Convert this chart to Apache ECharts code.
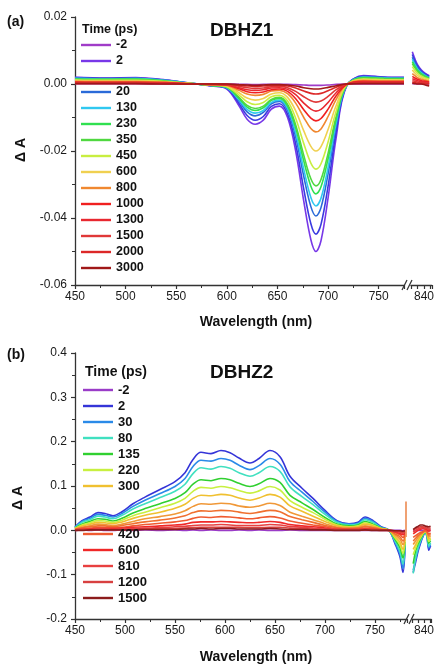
<!DOCTYPE html>
<html><head><meta charset="utf-8">
<script src="https://cdn.jsdelivr.net/npm/echarts@6/dist/echarts.min.js"></script>
<style>html,body{margin:0;padding:0;background:#fff}#c{width:437px;height:665px}</style>
</head><body><div id="c"></div>
<script>
// ---------- Panel (a) DBHZ1 ----------
const wlA = [450, 480, 510, 540, 565, 585, 600, 612, 620, 628, 636, 644, 652, 660, 668, 676, 683, 688, 693, 700, 708, 718, 735, 755, 775];
const wlAR = [831, 833, 835, 838, 841, 844];
const timesA = ['-2', '2', '', '20', '130', '230', '350', '450', '600', '800', '1000', '1300', '1500', '2000', '3000'];
const a_m2 = [0.0001, 0.0001, 0.0001, 0.0000, 0.0000, 0.0000, 0.0000, -0.0001, -0.0001, -0.0002, -0.0001, -0.0001, -0.0001, -0.0001, -0.0002, -0.0003, -0.0004, -0.0004, -0.0004, -0.0003, -0.0001, 0.0000, 0.0000, 0.0000, 0.0000];
const a_2 = [0.0020, 0.0018, 0.0019, 0.0012, 0.0002, -0.0006, -0.0015, -0.0065, -0.0105, -0.0120, -0.0108, -0.0075, -0.0066, -0.0100, -0.0200, -0.0350, -0.0465, -0.0500, -0.0468, -0.0340, -0.0160, -0.0008, 0.0025, 0.0021, 0.0020];
const a_u = [0.0019, 0.0017, 0.0018, 0.0011, 0.0002, -0.0005, -0.0013, -0.0058, -0.0094, -0.0108, -0.0097, -0.0067, -0.0059, -0.0090, -0.0179, -0.0314, -0.0417, -0.0448, -0.0419, -0.0305, -0.0143, -0.0007, 0.0024, 0.0020, 0.0019];
const a_20 = [0.0018, 0.0016, 0.0017, 0.0011, 0.0002, -0.0005, -0.0012, -0.0051, -0.0083, -0.0095, -0.0085, -0.0059, -0.0052, -0.0079, -0.0158, -0.0276, -0.0366, -0.0394, -0.0369, -0.0268, -0.0126, -0.0006, 0.0022, 0.0019, 0.0018];
const a_130 = [0.0017, 0.0015, 0.0016, 0.0010, 0.0002, -0.0004, -0.0011, -0.0047, -0.0076, -0.0087, -0.0079, -0.0055, -0.0048, -0.0073, -0.0146, -0.0255, -0.0339, -0.0364, -0.0341, -0.0248, -0.0116, -0.0006, 0.0021, 0.0018, 0.0017];
const a_230 = [0.0015, 0.0014, 0.0015, 0.0009, 0.0001, -0.0004, -0.0010, -0.0043, -0.0069, -0.0079, -0.0071, -0.0049, -0.0043, -0.0066, -0.0131, -0.0230, -0.0305, -0.0328, -0.0307, -0.0223, -0.0105, -0.0005, 0.0019, 0.0017, 0.0016];
const a_350 = [0.0014, 0.0013, 0.0013, 0.0008, 0.0001, -0.0004, -0.0009, -0.0040, -0.0064, -0.0073, -0.0066, -0.0046, -0.0040, -0.0061, -0.0122, -0.0213, -0.0283, -0.0304, -0.0285, -0.0207, -0.0097, -0.0005, 0.0018, 0.0016, 0.0015];
const a_450 = [0.0012, 0.0011, 0.0011, 0.0007, 0.0001, -0.0003, -0.0008, -0.0033, -0.0053, -0.0061, -0.0055, -0.0038, -0.0034, -0.0051, -0.0102, -0.0178, -0.0236, -0.0254, -0.0238, -0.0173, -0.0081, -0.0004, 0.0015, 0.0013, 0.0012];
const a_600 = [0.0010, 0.0009, 0.0009, 0.0006, 0.0001, -0.0002, -0.0006, -0.0026, -0.0042, -0.0048, -0.0043, -0.0030, -0.0026, -0.0040, -0.0080, -0.0140, -0.0186, -0.0200, -0.0187, -0.0136, -0.0064, -0.0003, 0.0013, 0.0011, 0.0011];
const a_800 = [0.0008, 0.0007, 0.0007, 0.0005, 0.0001, -0.0002, -0.0004, -0.0019, -0.0030, -0.0034, -0.0031, -0.0021, -0.0019, -0.0029, -0.0057, -0.0100, -0.0133, -0.0143, -0.0134, -0.0097, -0.0046, -0.0002, 0.0010, 0.0009, 0.0009];
const a_1000 = [0.0006, 0.0005, 0.0005, 0.0004, 0.0000, -0.0001, -0.0003, -0.0014, -0.0023, -0.0026, -0.0024, -0.0017, -0.0015, -0.0022, -0.0044, -0.0077, -0.0102, -0.0110, -0.0103, -0.0075, -0.0035, -0.0002, 0.0008, 0.0007, 0.0007];
const a_1300 = [0.0004, 0.0004, 0.0004, 0.0003, 0.0000, -0.0001, -0.0002, -0.0011, -0.0017, -0.0019, -0.0017, -0.0012, -0.0011, -0.0016, -0.0032, -0.0057, -0.0075, -0.0081, -0.0076, -0.0055, -0.0026, -0.0001, 0.0006, 0.0005, 0.0005];
const a_1500 = [0.0003, 0.0003, 0.0003, 0.0002, 0.0000, -0.0001, -0.0002, -0.0007, -0.0011, -0.0013, -0.0012, -0.0008, -0.0007, -0.0011, -0.0022, -0.0038, -0.0050, -0.0054, -0.0051, -0.0037, -0.0017, -0.0001, 0.0004, 0.0004, 0.0004];
const a_2000 = [0.0002, 0.0002, 0.0002, 0.0001, 0.0000, 0.0000, -0.0001, -0.0004, -0.0006, -0.0007, -0.0006, -0.0005, -0.0004, -0.0006, -0.0012, -0.0021, -0.0028, -0.0030, -0.0028, -0.0020, -0.0010, 0.0000, 0.0003, 0.0003, 0.0003];
const a_3000 = [0.0001, 0.0001, 0.0001, 0.0000, 0.0000, 0.0000, 0.0000, -0.0002, -0.0003, -0.0004, -0.0003, -0.0002, -0.0002, -0.0003, -0.0006, -0.0011, -0.0014, -0.0015, -0.0014, -0.0010, -0.0005, 0.0000, 0.0001, 0.0001, 0.0001];
// right segment (after axis break)
const aR_m2 = [0.0001, 0.0001, 0.0000, 0.0000, 0.0000, 0.0000];
const aR_2 = [0.0096, 0.0075, 0.0058, 0.0042, 0.0032, 0.0025];
const aR_u = [0.0088, 0.0069, 0.0054, 0.0039, 0.0030, 0.0023];
const aR_20 = [0.0080, 0.0063, 0.0049, 0.0036, 0.0027, 0.0021];
const aR_130 = [0.0074, 0.0058, 0.0045, 0.0033, 0.0025, 0.0019];
const aR_230 = [0.0067, 0.0053, 0.0041, 0.0030, 0.0023, 0.0017];
const aR_350 = [0.0061, 0.0048, 0.0037, 0.0027, 0.0021, 0.0016];
const aR_450 = [0.0052, 0.0041, 0.0032, 0.0023, 0.0018, 0.0014];
const aR_600 = [0.0042, 0.0033, 0.0026, 0.0019, 0.0014, 0.0011];
const aR_800 = [0.0031, 0.0025, 0.0019, 0.0014, 0.0011, 0.0008];
const aR_1000 = [0.0023, 0.0018, 0.0014, 0.0010, 0.0008, 0.0006];
const aR_1300 = [0.0016, 0.0013, 0.0010, 0.0007, 0.0005, 0.0004];
const aR_1500 = [0.0010, 0.0008, 0.0006, 0.0004, 0.0003, 0.0002];
const aR_2000 = [0.0005, 0.0004, 0.0003, 0.0002, 0.0001, 0.0000];
const aR_3000 = [0.0002, 0.0001, 0.0000, 0.0000, -0.0003, -0.0006];

// ---------- Panel (b) DBHZ2 ----------
const wlB = [450, 457, 465, 473, 480, 488, 497, 508, 520, 535, 550, 560, 568, 576, 586, 596, 605, 614, 625, 634, 645, 655, 665, 677, 688, 700, 712, 724, 733, 740, 748, 756, 764, 770, 775, 778, 780];
const wlBR = [831, 833, 835, 837, 839, 841, 842.5, 844, 845.5];
const timesB = ['-2', '2', '30', '80', '135', '220', '300', '', '', '420', '600', '810', '1200', '1500'];
const b_m2 = [0.000, 0.001, 0.000, 0.001, 0.000, 0.000, 0.001, 0.000, 0.001, 0.000, 0.001, 0.000, 0.001, 0.000, 0.001, 0.000, 0.000, 0.001, 0.000, 0.001, 0.000, 0.000, 0.001, 0.000, 0.000, 0.000, 0.000, 0.000, 0.000, 0.000, 0.000, 0.000, 0.000, 0.000, 0.000, -0.001, 0.000];
const b_2 = [0.008, 0.022, 0.030, 0.040, 0.038, 0.033, 0.042, 0.060, 0.075, 0.092, 0.110, 0.130, 0.160, 0.176, 0.173, 0.180, 0.175, 0.163, 0.152, 0.162, 0.180, 0.166, 0.122, 0.095, 0.072, 0.045, 0.022, 0.015, 0.018, 0.030, 0.022, 0.008, 0.000, -0.030, -0.060, -0.095, -0.040];
const b_30 = [0.007, 0.020, 0.027, 0.036, 0.034, 0.030, 0.038, 0.054, 0.068, 0.083, 0.099, 0.117, 0.144, 0.158, 0.156, 0.162, 0.158, 0.147, 0.137, 0.146, 0.162, 0.149, 0.110, 0.086, 0.065, 0.041, 0.020, 0.014, 0.016, 0.027, 0.020, 0.007, 0.000, -0.027, -0.054, -0.086, -0.036];
const b_80 = [0.006, 0.018, 0.024, 0.032, 0.030, 0.026, 0.034, 0.048, 0.060, 0.074, 0.088, 0.104, 0.128, 0.141, 0.138, 0.144, 0.140, 0.130, 0.122, 0.130, 0.144, 0.133, 0.098, 0.076, 0.058, 0.036, 0.018, 0.012, 0.014, 0.024, 0.018, 0.006, 0.000, -0.024, -0.048, -0.076, -0.032];
const b_135 = [0.005, 0.014, 0.020, 0.026, 0.025, 0.021, 0.027, 0.039, 0.049, 0.060, 0.072, 0.085, 0.104, 0.114, 0.112, 0.117, 0.114, 0.106, 0.099, 0.105, 0.117, 0.108, 0.079, 0.062, 0.047, 0.029, 0.014, 0.010, 0.012, 0.020, 0.014, 0.005, 0.000, -0.020, -0.039, -0.062, -0.026];
const b_220 = [0.004, 0.012, 0.017, 0.022, 0.021, 0.018, 0.023, 0.033, 0.041, 0.051, 0.061, 0.072, 0.088, 0.097, 0.095, 0.099, 0.096, 0.090, 0.084, 0.089, 0.099, 0.091, 0.067, 0.052, 0.040, 0.025, 0.012, 0.008, 0.010, 0.017, 0.012, 0.004, 0.000, -0.017, -0.033, -0.052, -0.022];
const b_300 = [0.004, 0.010, 0.014, 0.018, 0.017, 0.015, 0.019, 0.027, 0.034, 0.041, 0.050, 0.059, 0.072, 0.079, 0.078, 0.081, 0.079, 0.073, 0.068, 0.073, 0.081, 0.075, 0.055, 0.043, 0.032, 0.020, 0.010, 0.007, 0.008, 0.014, 0.010, 0.004, 0.000, -0.014, -0.027, -0.043, -0.018];
const b_h1 = [0.003, 0.007, 0.010, 0.014, 0.013, 0.011, 0.014, 0.020, 0.026, 0.031, 0.037, 0.044, 0.054, 0.060, 0.059, 0.061, 0.060, 0.055, 0.052, 0.055, 0.061, 0.056, 0.041, 0.032, 0.024, 0.015, 0.007, 0.005, 0.006, 0.010, 0.007, 0.003, 0.000, -0.010, -0.020, -0.032, -0.014];
const b_h2 = [0.002, 0.006, 0.008, 0.010, 0.010, 0.008, 0.011, 0.015, 0.019, 0.023, 0.028, 0.033, 0.040, 0.044, 0.043, 0.045, 0.044, 0.041, 0.038, 0.041, 0.045, 0.042, 0.031, 0.024, 0.018, 0.011, 0.006, 0.004, 0.005, 0.008, 0.006, 0.002, 0.000, -0.008, -0.015, -0.024, -0.010];
const b_420 = [0.001, 0.004, 0.005, 0.007, 0.006, 0.006, 0.007, 0.010, 0.013, 0.016, 0.019, 0.022, 0.027, 0.030, 0.029, 0.031, 0.030, 0.028, 0.026, 0.028, 0.031, 0.028, 0.021, 0.016, 0.012, 0.008, 0.004, 0.003, 0.003, 0.005, 0.004, 0.001, 0.000, -0.005, -0.010, -0.016, -0.007];
const b_600 = [0.001, 0.002, 0.003, 0.004, 0.004, 0.004, 0.005, 0.007, 0.008, 0.010, 0.012, 0.014, 0.018, 0.019, 0.019, 0.020, 0.019, 0.018, 0.017, 0.018, 0.020, 0.018, 0.013, 0.010, 0.008, 0.005, 0.002, 0.002, 0.002, 0.003, 0.002, 0.001, 0.000, -0.003, -0.007, -0.010, -0.004];
const b_810 = [0.001, 0.002, 0.002, 0.003, 0.003, 0.002, 0.003, 0.004, 0.005, 0.006, 0.008, 0.009, 0.011, 0.012, 0.012, 0.013, 0.012, 0.011, 0.011, 0.011, 0.013, 0.012, 0.009, 0.007, 0.005, 0.003, 0.002, 0.001, 0.001, 0.002, 0.002, 0.001, 0.000, -0.002, -0.004, -0.007, -0.003];
const b_1200 = [0.000, 0.001, 0.001, 0.002, 0.002, 0.001, 0.002, 0.002, 0.003, 0.004, 0.004, 0.005, 0.006, 0.007, 0.007, 0.007, 0.007, 0.007, 0.006, 0.006, 0.007, 0.007, 0.005, 0.004, 0.003, 0.002, 0.001, 0.001, 0.001, 0.001, 0.001, 0.000, 0.000, -0.001, -0.002, -0.004, -0.002];
const b_1500 = [0.000, 0.000, 0.001, 0.001, 0.001, 0.001, 0.001, 0.001, 0.002, 0.002, 0.002, 0.003, 0.003, 0.004, 0.003, 0.004, 0.004, 0.003, 0.003, 0.003, 0.004, 0.003, 0.002, 0.002, 0.001, 0.001, 0.000, 0.000, 0.000, 0.001, 0.000, 0.000, 0.000, -0.001, -0.001, -0.002, -0.001];
const bR_m2 = [0.000, 0.000, 0.000, 0.000, 0.000, 0.000, 0.000, 0.000, 0.000];
const bR_2 = [-0.095, -0.072, -0.048, -0.030, -0.015, -0.005, -0.015, -0.045, -0.035];
const bR_30 = [-0.090, -0.066, -0.044, -0.027, -0.014, -0.005, -0.014, -0.040, -0.032];
const bR_80 = [-0.097, -0.062, -0.040, -0.024, -0.012, -0.004, -0.012, -0.036, -0.028];
const bR_135 = [-0.075, -0.047, -0.031, -0.020, -0.010, -0.003, -0.010, -0.029, -0.023];
const bR_220 = [-0.055, -0.040, -0.026, -0.017, -0.008, -0.003, -0.008, -0.025, -0.019];
const bR_300 = [-0.043, -0.032, -0.022, -0.014, -0.007, -0.002, -0.007, -0.020, -0.016];
const bR_h1 = [-0.032, -0.024, -0.016, -0.010, -0.005, -0.002, -0.005, -0.015, -0.012];
const bR_h2 = [-0.024, -0.018, -0.012, -0.008, -0.004, -0.001, -0.004, -0.011, -0.009];
const bR_420 = [-0.016, -0.012, -0.008, -0.005, -0.003, 0.000, -0.002, -0.008, -0.006];
const bR_600 = [-0.008, -0.004, 0.000, 0.002, 0.004, 0.003, 0.002, -0.002, 0.000];
const bR_810 = [-0.004, 0.000, 0.003, 0.005, 0.006, 0.005, 0.004, 0.002, 0.003];
const bR_1200 = [0.000, 0.004, 0.006, 0.008, 0.008, 0.007, 0.006, 0.005, 0.006];
const bR_1500 = [0.002, 0.006, 0.009, 0.012, 0.012, 0.010, 0.009, 0.008, 0.009];
// narrow artefact spike at the end of the main segment
const spikeX = [781, 781];
const spikeY = [0.065, -0.015];

// x tick labels
const xTicksMain = [450, 500, 550, 600, 650, 700, 750];
const xTickRight = 840;

// ---------- build ----------
const colorsA = ['#a03cc8', '#7838e8', '#3a3ae0', '#2a6ad8', '#30c8f0', '#30e050', '#50d840', '#c8ee40', '#f0d050', '#f08830', '#f02020', '#e82830', '#e03838', '#dc2828', '#a01818'];
const colorsB = ['#9a3cc8', '#3535d8', '#2a8ae8', '#40e0c0', '#30d030', '#c8f040', '#f0c030', '#f09838', '#f07030', '#f05a30', '#f02828', '#e84040', '#d84040', '#8c1c1c'];
const mainA = [a_m2, a_2, a_u, a_20, a_130, a_230, a_350, a_450, a_600, a_800, a_1000, a_1300, a_1500, a_2000, a_3000];
const rightA = [aR_m2, aR_2, aR_u, aR_20, aR_130, aR_230, aR_350, aR_450, aR_600, aR_800, aR_1000, aR_1300, aR_1500, aR_2000, aR_3000];
const mainB = [b_m2, b_2, b_30, b_80, b_135, b_220, b_300, b_h1, b_h2, b_420, b_600, b_810, b_1200, b_1500];
const rightB = [bR_m2, bR_2, bR_30, bR_80, bR_135, bR_220, bR_300, bR_h1, bR_h2, bR_420, bR_600, bR_810, bR_1200, bR_1500];

const FONT = "'Liberation Sans', Arial, sans-serif";
const series = [];
function line(name, color, xs, ys, axis, smooth) {
  series.push({
    type: 'line', name: name, xAxisIndex: axis, yAxisIndex: axis,
    data: xs.map((x, i) => [x, ys[i]]), symbol: 'none', smooth: smooth,
    lineStyle: { color: color, width: 1.6 }, itemStyle: { color: color },
    emphasis: { disabled: true }, silent: true, animation: false
  });
}
mainA.forEach((ys, i) => line('a|' + timesA[i], colorsA[i], wlA, ys, 0, 0.35));
rightA.forEach((ys, i) => line('a|' + timesA[i], colorsA[i], wlAR, ys, 1, 0.35));
mainB.forEach((ys, i) => line('b|' + timesB[i] + (timesB[i] ? '' : '#' + i), colorsB[i], wlB, ys, 2, 0.35));
rightB.forEach((ys, i) => line('b|' + timesB[i] + (timesB[i] ? '' : '#' + i), colorsB[i], wlBR, ys, 3, 0.3));
line('b|spike', '#ec8a50', spikeX, spikeY, 2, false);

const axisLine = { show: true, onZero: false, lineStyle: { color: '#333', width: 1.3 } };
const axisTick = { show: true, inside: false, length: 4, lineStyle: { color: '#333', width: 1.2 } };
const minorTick = { show: true, splitNumber: 2, length: 3, lineStyle: { color: '#333', width: 1 } };
const lblStyle = { color: '#1a1a1a', fontSize: 12, fontFamily: FONT };

function xMain(grid, max) {
  return { type: 'value', gridIndex: grid, min: 450, max: max, interval: 50,
    axisLine: axisLine, axisTick: axisTick, minorTick: minorTick, splitLine: { show: false },
    axisLabel: Object.assign({ margin: 6, formatter: v => xTicksMain.indexOf(v) >= 0 ? String(v) : '' }, lblStyle) };
}
function xRight(grid) {
  return { type: 'value', gridIndex: grid, min: 830, max: 846, interval: 5,
    axisLine: axisLine, axisTick: axisTick, splitLine: { show: false },
    axisLabel: Object.assign({ margin: 6, formatter: v => v === xTickRight ? String(v) : '' }, lblStyle) };
}
function yMain(grid, min, max, itv, dec) {
  return { type: 'value', gridIndex: grid, min: min, max: max, interval: itv,
    axisLine: axisLine, axisTick: axisTick, minorTick: minorTick, splitLine: { show: false },
    axisLabel: Object.assign({ margin: 8, formatter: v => (Math.abs(v) < 1e-9 ? 0 : v).toFixed(dec) }, lblStyle) };
}
function yHidden(grid, min, max) {
  return { type: 'value', gridIndex: grid, min: min, max: max, show: false, splitLine: { show: false } };
}

const legTxt = { fontSize: 12.5, fontWeight: 'bold', fontFamily: FONT, color: '#111', lineHeight: 14 };
function legend(data, left, top, fs) {
  return { data: data, left: left, top: top, orient: 'vertical', padding: 0, itemGap: 2,
    itemWidth: 30, itemHeight: 14, selectedMode: false, icon: 'path://M0,0L30,0L30,2.4L0,2.4Z',
    formatter: n => n.split('|')[1], textStyle: Object.assign({}, legTxt, { fontSize: fs }) };
}

function txt(x, y, s, size, align, rot) {
  return { type: 'text', x: x, y: y, rotation: rot || 0, z: 100,
    style: { text: s, font: 'bold ' + size + 'px ' + FONT, fill: '#111', textAlign: align || 'left', textVerticalAlign: 'middle' } };
}
function slash(x1, y1, x2, y2) {
  return { type: 'line', z: 100, shape: { x1: x1, y1: y1, x2: x2, y2: y2 }, style: { stroke: '#333', lineWidth: 1.2 } };
}

const option = {
  backgroundColor: '#fff',
  animation: false,
  grid: [
    { left: 75, top: 17, width: 329, height: 268 },
    { left: 411, top: 17, width: 26, height: 268 },
    { left: 75, top: 353, width: 332, height: 266 },
    { left: 412, top: 353, width: 25, height: 266 }
  ],
  xAxis: [xMain(0, 775), xRight(1), xMain(2, 782), xRight(3)],
  yAxis: [yMain(0, -0.06, 0.02, 0.02, 2), yHidden(1, -0.06, 0.02), yMain(2, -0.2, 0.4, 0.1, 1), yHidden(3, -0.2, 0.4)],
  legend: [
    legend(['a|-2', 'a|2'], 81, 38, 12.5),
    legend(['a|20', 'a|130', 'a|230', 'a|350', 'a|450', 'a|600', 'a|800', 'a|1000', 'a|1300', 'a|1500', 'a|2000', 'a|3000'], 81, 85, 12.5),
    legend(['b|-2', 'b|2', 'b|30', 'b|80', 'b|135', 'b|220', 'b|300'], 83, 383, 13),
    legend(['b|420', 'b|600', 'b|810', 'b|1200', 'b|1500'], 83, 527, 13)
  ],
  graphic: [
    txt(7, 22, '(a)', 14), txt(7, 355, '(b)', 14),
    txt(210, 31, 'DBHZ1', 19), txt(210, 373, 'DBHZ2', 19),
    txt(82, 30, 'Time (ps)', 12.5), txt(85, 372, 'Time (ps)', 14),
    txt(256, 322, 'Wavelength (nm)', 14, 'center'), txt(256, 657, 'Wavelength (nm)', 14, 'center'),
    txt(21, 150, 'Δ A', 14, 'center', Math.PI / 2), txt(18, 498, 'Δ A', 14, 'center', Math.PI / 2),
    slash(402, 290, 407, 280), slash(407, 290, 412, 280),
    slash(404, 624, 409, 614), slash(409, 624, 414, 614)
  ],
  series: series
};
const chart = echarts.init(document.getElementById('c'), null, { renderer: 'canvas' });
chart.setOption(option);
</script></body></html>
